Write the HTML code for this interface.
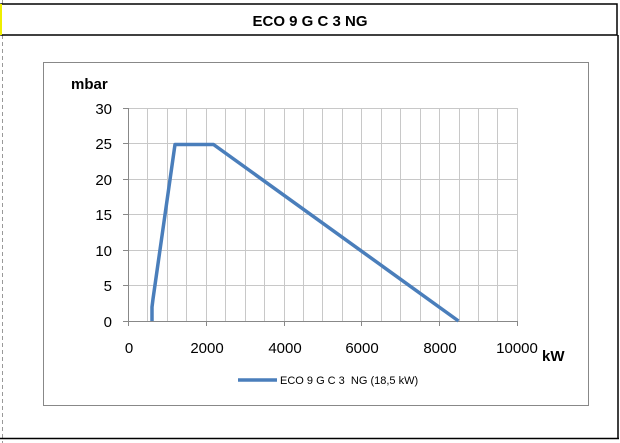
<!DOCTYPE html>
<html><head><style>
body{margin:0;width:620px;height:443px;background:#fff;overflow:hidden;font-family:"Liberation Sans",sans-serif}
</style></head><body>
<svg width="620" height="443" xmlns="http://www.w3.org/2000/svg" style="position:absolute;left:0;top:0">
<line x1="2.5" y1="0" x2="2.5" y2="443" stroke="#999" stroke-dasharray="4,3"/>
<rect x="1" y="4" width="616" height="31" fill="#fff" stroke="#000" stroke-width="1.5"/>
<rect x="0" y="4" width="2" height="31" fill="#ee0"/>
<text x="310" y="26" text-anchor="middle" font-size="15" font-weight="bold">ECO 9 G C 3 NG</text>
<line x1="0" y1="438.5" x2="619" y2="438.5" stroke="#000" stroke-width="1.5"/>
<line x1="618" y1="35" x2="618" y2="439" stroke="#000" stroke-width="1.5"/>
<rect x="43.5" y="62.5" width="545" height="343" fill="#fff" stroke="#888"/>
<g stroke="#c8c8c8" stroke-width="1">
<line x1="147.5" y1="108" x2="147.5" y2="321"/><line x1="167.5" y1="108" x2="167.5" y2="321"/><line x1="186.5" y1="108" x2="186.5" y2="321"/><line x1="206.5" y1="108" x2="206.5" y2="321"/>
<line x1="225.5" y1="108" x2="225.5" y2="321"/><line x1="245.5" y1="108" x2="245.5" y2="321"/><line x1="264.5" y1="108" x2="264.5" y2="321"/><line x1="284.5" y1="108" x2="284.5" y2="321"/>
<line x1="303.5" y1="108" x2="303.5" y2="321"/><line x1="322.5" y1="108" x2="322.5" y2="321"/><line x1="342.5" y1="108" x2="342.5" y2="321"/><line x1="361.5" y1="108" x2="361.5" y2="321"/>
<line x1="381.5" y1="108" x2="381.5" y2="321"/><line x1="400.5" y1="108" x2="400.5" y2="321"/><line x1="420.5" y1="108" x2="420.5" y2="321"/><line x1="439.5" y1="108" x2="439.5" y2="321"/>
<line x1="459.5" y1="108" x2="459.5" y2="321"/><line x1="478.5" y1="108" x2="478.5" y2="321"/><line x1="497.5" y1="108" x2="497.5" y2="321"/><line x1="517.5" y1="108" x2="517.5" y2="321"/>
<line x1="128" y1="108.5" x2="517" y2="108.5"/><line x1="128" y1="143.5" x2="517" y2="143.5"/><line x1="128" y1="179.5" x2="517" y2="179.5"/><line x1="128" y1="214.5" x2="517" y2="214.5"/><line x1="128" y1="250.5" x2="517" y2="250.5"/><line x1="128" y1="285.5" x2="517" y2="285.5"/>
</g>
<g stroke="#888">
<line x1="128.5" y1="108" x2="128.5" y2="321"/>
<line x1="123" y1="321.5" x2="517" y2="321.5"/>
<line x1="123" y1="108.5" x2="128" y2="108.5"/><line x1="123" y1="143.5" x2="128" y2="143.5"/><line x1="123" y1="179.5" x2="128" y2="179.5"/><line x1="123" y1="214.5" x2="128" y2="214.5"/><line x1="123" y1="250.5" x2="128" y2="250.5"/><line x1="123" y1="285.5" x2="128" y2="285.5"/>
<line x1="128.5" y1="321" x2="128.5" y2="326"/><line x1="206.5" y1="321" x2="206.5" y2="326"/><line x1="284.5" y1="321" x2="284.5" y2="326"/><line x1="361.5" y1="321" x2="361.5" y2="326"/><line x1="439.5" y1="321" x2="439.5" y2="326"/><line x1="517.5" y1="321" x2="517.5" y2="326"/>
</g>
<g font-size="15" fill="#000" text-anchor="end">
<text x="112" y="114">30</text><text x="112" y="149">25</text><text x="112" y="185">20</text><text x="112" y="220">15</text><text x="112" y="256">10</text><text x="112" y="291">5</text><text x="112" y="327">0</text>
</g>
<g font-size="15" fill="#000" text-anchor="middle">
<text x="129" y="353">0</text><text x="207" y="353">2000</text><text x="285" y="353">4000</text><text x="362" y="353">6000</text><text x="440" y="353">8000</text><text x="517" y="353">10000</text>
</g>
<text x="71" y="89" font-size="15" font-weight="bold">mbar</text>
<text x="542" y="361" font-size="15" font-weight="bold">kW</text>
<path d="M152,321 L152,307 Q152.5,303 153,299 L175,144.5 L213.5,144.5 L458.5,321" fill="none" stroke="#4a7ebb" stroke-width="3.5" stroke-linejoin="round"/>
<line x1="238" y1="380" x2="277" y2="380" stroke="#4a7ebb" stroke-width="3.5"/>
<text x="280" y="384" font-size="11">ECO 9 G C 3 &#160;NG (18,5 kW)</text>
</svg>
</body></html>
